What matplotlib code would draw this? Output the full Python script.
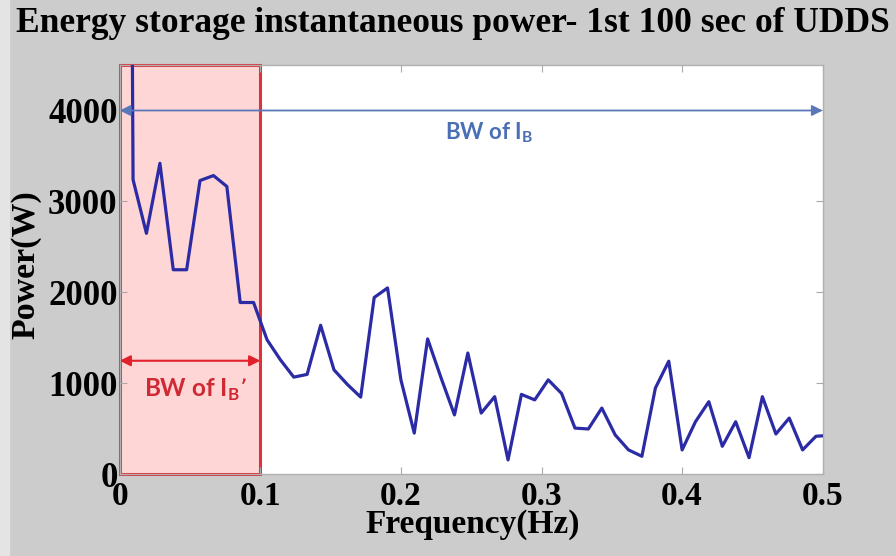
import matplotlib
matplotlib.use("Agg")
import matplotlib.pyplot as plt
from matplotlib.patches import Rectangle

# ---------------------------------------------------------------------
# Data: FFT bins of the energy storage power (first 100 s of UDDS)
# ---------------------------------------------------------------------
freq = [0.0000, 0.0095, 0.0190, 0.0286, 0.0381, 0.0476, 0.0571, 0.0667,
        0.0762, 0.0857, 0.0952, 0.1048, 0.1143, 0.1238, 0.1333, 0.1429,
        0.1524, 0.1619, 0.1714, 0.1810, 0.1905, 0.2000, 0.2095, 0.2190,
        0.2286, 0.2381, 0.2476, 0.2571, 0.2667, 0.2762, 0.2857, 0.2952,
        0.3048, 0.3143, 0.3238, 0.3333, 0.3429, 0.3524, 0.3619, 0.3714,
        0.3810, 0.3905, 0.4000, 0.4095, 0.4190, 0.4286, 0.4381, 0.4476,
        0.4571, 0.4667, 0.4762, 0.4857, 0.4952, 0.5048]
power = [30000, 3240, 2650, 3420, 2250, 2250, 3230, 3285,
         3165, 1890, 1890, 1480, 1260, 1070, 1100, 1640,
         1150, 990, 850, 1945, 2050, 1040, 455, 1490,
         1060, 655, 1335, 675, 855, 160, 880, 820,
         1040, 890, 510, 500, 730, 435, 270, 200,
         950, 1245, 270, 580, 800, 310, 580, 185,
         855, 445, 620, 270, 420, 430]

xticks = [0, 0.1, 0.2, 0.3, 0.4, 0.5]
xticklabels = ["0", "0.1", "0.2", "0.3", "0.4", "0.5"]
yticks = [0, 1000, 2000, 3000, 4000]

bw_ib = (0.0, 0.5, 4000)        # start, end, level of the I_B band arrow
bw_ib_prime = (0.0, 0.1, 1250)  # start, end, level of the I_B' band arrow

SERIF = "Liberation Serif"
SANS = "Lato"
BLUE_TXT = "#4a6fb5"
RED = "#e0202a"
RED_TXT = "#cf2a33"

fig = plt.figure(figsize=(8.96, 5.56), dpi=100, facecolor="#cccccc")
fig.add_artist(Rectangle((0, 0), 9 / 896, 1, transform=fig.transFigure,
                         color="#e4e4e4", zorder=0))
ax = fig.add_axes([0.1336, 0.1466, 0.7846, 0.7365])

# shaded band for I_B'
ax.axvspan(bw_ib_prime[0], bw_ib_prime[1], facecolor="#ffd6d6",
           edgecolor="#d9343c", lw=2.2, zorder=1, clip_on=False)

ax.plot(freq, power, color="#2b2ba6", lw=2.3, zorder=3)

ax.set_xlim(0, 0.5)
ax.set_ylim(0, 4500)
ax.set_xticks(xticks)
ax.set_xticklabels(xticklabels)
ax.set_yticks(yticks)

for lbl in ax.get_xticklabels() + ax.get_yticklabels():
    lbl.set_fontfamily(SERIF)
    lbl.set_fontweight("bold")
    lbl.set_fontsize(24)
for lbl in ax.get_yticklabels():
    lbl.set_fontsize(25)

ax.tick_params(axis="both", direction="in", length=5, color="#a8a8a8",
               top=True, right=True, labelcolor="black")
ax.tick_params(axis="x", pad=4.5)
ax.tick_params(axis="y", pad=1.5)
for sp in ax.spines.values():
    sp.set_color("#b0b0b0")
    sp.set_linewidth(1)

# bandwidth arrows
ax.annotate("", xy=(bw_ib[1], bw_ib[2]), xytext=(bw_ib[0], bw_ib[2]),
            arrowprops=dict(arrowstyle="<|-|>", color="#5a78b8", lw=1.3,
                            mutation_scale=16, shrinkA=0, shrinkB=0),
            annotation_clip=False, zorder=4)
ax.annotate("", xy=(bw_ib_prime[1], bw_ib_prime[2]),
            xytext=(bw_ib_prime[0], bw_ib_prime[2]),
            arrowprops=dict(arrowstyle="<|-|>", color=RED, lw=1.5,
                            mutation_scale=16, shrinkA=0, shrinkB=0),
            annotation_clip=False, zorder=4)

ax.text(0.263, 3760, r"BW of I$_\mathregular{B}$", color=BLUE_TXT,
        family=SANS, weight="bold", fontsize=16, ha="center", va="center")
ax.text(0.054, 930, "BW of I$_\\mathregular{B}$\u2019", color=RED_TXT,
        family=SANS, weight="bold", fontsize=17.5, ha="center", va="center",
        zorder=5)

fig.text(0.505, 0.958, "Energy storage instantaneous power- 1st 100 sec of UDDS",
         family=SERIF, weight="bold", fontsize=25.5, ha="center", va="center")
fig.text(26 / 896, 1 - 265 / 556, "Power(W)", family=SERIF, weight="bold",
         fontsize=24.5, rotation=90, ha="center", va="center")
fig.text(473 / 896, 1 - 525 / 556, "Frequency(Hz)", family=SERIF,
         weight="bold", fontsize=24, ha="center", va="center")

fig.savefig("out.png", dpi=100, facecolor=fig.get_facecolor())
